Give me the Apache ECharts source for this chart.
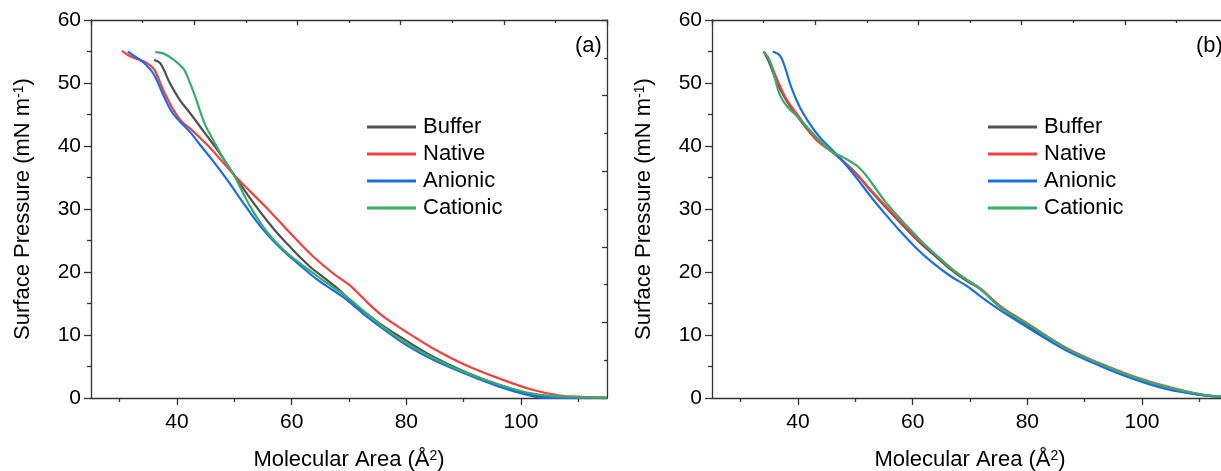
<!DOCTYPE html>
<html lang="en">
<head>
<meta charset="UTF-8">
<title>Surface pressure isotherms</title>
<script src="https://cdn.jsdelivr.net/npm/echarts@6/dist/echarts.min.js"></script>
</head>
<body style="margin:0">
<div id="chart" style="width:1221px;height:471px"></div>
<script>
// panel (a): [area, pressure]
let bufferA = [[36.0,53.7],[37.1,53.1],[38.8,49.9],[40.5,47.3],[42.3,45.2],[44.9,42.0],[47.5,38.8],[49.8,35.6],[53.3,31.0],[56.8,26.9],[59.5,24.2],[61.4,22.4],[63.5,20.6],[65.5,19.2],[68.0,17.4],[70.1,15.6],[72.5,13.8],[75.9,11.5],[80.0,9.1],[84.6,6.6],[90.4,4.1],[96.2,2.1],[102.0,0.5],[105.0,0.1],[110.0,0.0],[115.0,0.0]];
let nativeA = [[30.4,55.1],[31.5,54.4],[33.0,53.8],[34.7,53.2],[35.9,52.3],[36.5,51.3],[37.6,48.9],[39.4,45.7],[40.8,43.9],[42.5,42.6],[44.0,41.3],[46.0,39.5],[48.0,37.4],[51.0,34.4],[55.6,30.2],[59.1,26.8],[61.4,24.6],[63.7,22.5],[67.2,19.8],[70.1,17.9],[71.3,16.9],[73.5,14.9],[75.9,13.0],[80.0,10.5],[84.6,7.9],[90.4,5.2],[96.2,3.1],[102.0,1.3],[106.7,0.4],[110.7,0.2],[115.0,0.05]];
let anionicA = [[31.4,55.0],[32.5,54.3],[34.0,53.4],[35.3,52.2],[36.2,51.0],[37.6,48.1],[39.1,45.4],[40.5,43.9],[42.3,42.2],[44.0,40.2],[46.3,37.6],[48.7,34.7],[51.3,31.3],[53.9,28.0],[56.2,25.5],[58.5,23.4],[60.9,21.5],[64.3,18.9],[67.2,17.1],[69.0,16.0],[71.3,14.3],[73.1,12.9],[76.5,10.6],[80.0,8.4],[84.6,6.1],[90.4,3.8],[96.2,1.8],[102.0,0.3],[105.0,0.0],[110.0,0.0],[115.0,0.0]];
let cationicA = [[36.2,54.9],[37.6,54.7],[39.4,53.7],[41.1,52.3],[41.7,51.3],[43.2,47.8],[44.0,45.6],[45.0,43.2],[46.1,41.3],[48.1,38.0],[49.8,35.6],[51.0,33.5],[52.7,30.5],[55.0,27.2],[57.0,25.0],[59.1,23.1],[62.6,20.6],[65.0,19.0],[67.2,17.6],[70.1,15.7],[73.1,13.4],[76.5,10.9],[80.0,8.7],[84.6,6.4],[90.4,4.0],[96.2,2.1],[102.0,0.7],[107.8,0.2],[115.0,0.05]];

// panel (b)
let bufferB = [[34.0,55.0],[35.0,53.2],[36.0,50.8],[37.8,47.5],[40.2,44.3],[43.2,41.0],[46.7,38.5],[50.2,35.6],[52.5,33.1],[56.6,29.0],[61.3,24.6],[63.6,22.8],[66.5,20.5],[69.4,18.6],[71.8,17.3],[75.3,14.4],[79.9,11.6],[86.9,7.7],[92.7,5.2],[98.6,3.1],[104.4,1.6],[110.2,0.5],[115.0,0.1]];
let nativeB = [[34.0,55.0],[35.1,53.4],[36.2,50.9],[38.0,47.4],[40.3,44.5],[43.2,41.0],[46.7,38.6],[48.5,37.0],[50.2,35.5],[52.5,33.2],[56.6,29.2],[58.5,27.4],[61.3,24.8],[63.6,23.0],[66.5,20.7],[69.4,18.8],[71.8,17.4],[75.3,14.6],[79.9,11.9],[86.9,7.9],[92.7,5.5],[98.6,3.4],[104.4,1.8],[110.2,0.6],[115.0,0.1]];
let anionicB = [[35.6,55.0],[36.8,54.4],[37.7,52.6],[38.8,49.4],[40.3,46.2],[42.0,43.6],[43.8,41.4],[46.7,38.7],[49.0,36.3],[50.5,34.6],[53.1,31.5],[55.5,28.9],[57.8,26.5],[60.5,23.9],[63.3,21.6],[66.5,19.4],[69.4,17.8],[70.6,17.0],[72.3,15.8],[75.3,13.9],[81.1,10.6],[86.9,7.5],[92.7,5.1],[98.6,3.0],[104.4,1.4],[110.2,0.5],[115.0,0.1]];
let cationicB = [[34.0,55.0],[35.0,53.7],[35.9,51.0],[36.8,48.2],[38.0,46.4],[40.3,44.3],[42.0,42.6],[43.2,41.4],[45.5,39.4],[47.9,38.2],[49.6,37.3],[50.5,36.7],[52.0,35.2],[55.2,31.2],[59.0,27.3],[62.4,24.1],[67.1,20.3],[69.4,18.8],[71.8,17.3],[75.3,14.4],[79.9,11.8],[86.9,7.8],[92.7,5.4],[98.6,3.3],[104.4,1.7],[110.2,0.6],[115.0,0.1]];

let names = ['Buffer', 'Native', 'Anionic', 'Cationic'];
let colors = ['#515151', '#F14040', '#1A6FDF', '#37AD6B'];
let xMajor = [40, 60, 80, 100];
let xMinor = [30, 50, 70, 90, 110];
let panels = [[bufferA, nativeA, anionicA, cationicA], [bufferB, nativeB, anionicB, cationicB]];
let panelLabels = ['(a)', '(b)'];

let font = 'Liberation Sans, Arial, sans-serif';
let axisCol = '#333';
let gridLefts = [91, 712];
let titleRich = {
    t: {fontSize: 22, fontFamily: font, color: '#000'},
    s: {fontSize: 14, fontFamily: font, color: '#000', verticalAlign: 'top'}
};

let grids = [], xAxes = [], yAxes = [], series = [], legends = [], texts = [];
gridLefts.forEach(function (left, g) {
    grids.push({left: left, top: 20, width: 516, height: 378, outerBoundsMode: 'none'});
    // bottom axis with labels + major ticks
    xAxes.push({
        gridIndex: g, type: 'value', min: 25, max: 115, position: 'bottom',
        axisLine: {lineStyle: {color: axisCol, width: 1.3}},
        axisTick: {customValues: xMajor, length: 7, lineStyle: {color: axisCol, width: 1.3}},
        axisLabel: {customValues: xMajor, fontSize: 21, color: '#000', margin: 14, fontFamily: font},
        splitLine: {show: false},
        name: '{t|Molecular Area (Å}{s|2}{t|)}', nameLocation: 'middle', nameGap: 51,
        nameTextStyle: {rich: titleRich}
    });
    // bottom minor ticks
    xAxes.push({
        gridIndex: g, type: 'value', min: 25, max: 115, position: 'bottom',
        axisLine: {show: false},
        axisTick: {customValues: xMinor, length: 4, lineStyle: {color: axisCol, width: 1.3}},
        axisLabel: {show: false}, splitLine: {show: false}
    });
    // top frame axis
    xAxes.push({
        gridIndex: g, type: 'value', min: 0, max: 10, interval: 2, position: 'top',
        axisLine: {lineStyle: {color: axisCol, width: 1.3}},
        axisTick: {inside: true, length: 5, lineStyle: {color: axisCol, width: 1.3}},
        minorTick: {show: true, splitNumber: 2, length: 3, lineStyle: {color: axisCol, width: 1.3}},
        axisLabel: {show: false}, splitLine: {show: false}
    });
    yAxes.push({
        gridIndex: g, type: 'value', min: 0, max: 60, interval: 10, position: 'left',
        axisLine: {show: true, lineStyle: {color: axisCol, width: 1.3}},
        axisTick: {show: true, length: 7, lineStyle: {color: axisCol, width: 1.3}},
        minorTick: {show: true, splitNumber: 2, length: 4, lineStyle: {color: axisCol, width: 1.3}},
        axisLabel: {fontSize: 21, color: '#000', margin: 10, fontFamily: font},
        splitLine: {show: false},
        name: '{t|Surface Pressure (mN m}{s|-1}{t|)}', nameLocation: 'middle', nameGap: 57,
        nameTextStyle: {rich: titleRich}
    });
    yAxes.push({
        gridIndex: g, type: 'value', min: 0, max: 10, interval: 2, position: 'right',
        axisLine: {show: true, lineStyle: {color: axisCol, width: 1.3}},
        axisTick: {show: true, inside: true, length: 5, lineStyle: {color: axisCol, width: 1.3}},
        minorTick: {show: true, splitNumber: 2, length: 3, lineStyle: {color: axisCol, width: 1.3}},
        axisLabel: {show: false}, splitLine: {show: false}
    });
    panels[g].forEach(function (d, i) {
        series.push({
            type: 'line', name: names[i], data: d,
            xAxisIndex: g * 3, yAxisIndex: g * 2,
            showSymbol: false, smooth: 0.35,
            lineStyle: {width: 2.2, color: colors[i]}, itemStyle: {color: colors[i]},
            z: 2 + i
        });
    });
    legends.push({
        orient: 'vertical', left: left + 271, top: 111, icon: 'rect',
        itemWidth: 49, itemHeight: 3, itemGap: 5,
        textStyle: {fontSize: 22, color: '#000', fontFamily: font, padding: [0, 0, 0, 2]},
        data: names
    });
    texts.push({
        type: 'text', left: left + 484, top: 35,
        style: {text: panelLabels[g], fontSize: 22, fontFamily: font, fill: '#000'}
    });
});

let chart = echarts.init(document.getElementById('chart'));
chart.setOption({
    animation: false,
    backgroundColor: '#fff',
    grid: grids,
    xAxis: xAxes,
    yAxis: yAxes,
    legend: legends,
    graphic: texts,
    series: series
});
</script>
</body>
</html>
